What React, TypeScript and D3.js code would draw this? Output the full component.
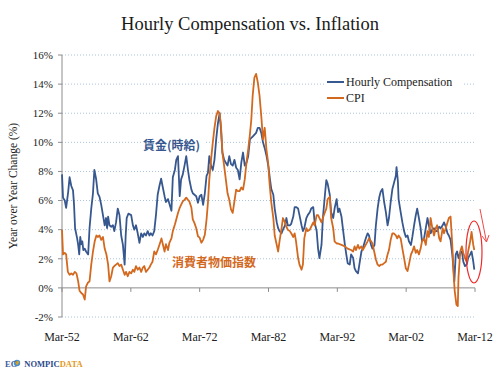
import React from "react";
import * as d3 from "d3";

const title = "Hourly Compensation vs. Inflation";
const yAxisTitle = "Year over Year Change (%)";
const yTicks = [-2, 0, 2, 4, 6, 8, 10, 12, 14, 16];
const xTickYears = [1952, 1962, 1972, 1982, 1992, 2002, 2012];
const xTickLabels = ["Mar-52", "Mar-62", "Mar-72", "Mar-82", "Mar-92", "Mar-02", "Mar-12"];
const seriesNames = ["Hourly Compensation", "CPI"];
const annotationWage = "賃金(時給)";
const annotationCpi = "消費者物価指数";

// [year, YoY %]
const hourlyComp: [number, number][] = [
  [1952.0, 7.8], [1952.15, 6.2], [1952.4, 6.0], [1952.6, 5.5], [1952.9, 6.6], [1953.1, 7.6],
  [1953.35, 7.0], [1953.6, 6.7], [1953.75, 5.7], [1953.9, 4.1], [1954.2, 3.4], [1954.35, 2.95],
  [1954.5, 2.3], [1954.65, 3.5], [1954.8, 3.0], [1954.95, 3.2], [1955.1, 2.6], [1955.3, 2.7],
  [1955.5, 2.5], [1955.8, 2.3], [1956.0, 4.1], [1956.25, 5.45], [1956.5, 6.5], [1956.7, 8.1],
  [1956.95, 7.5], [1957.2, 6.5], [1957.45, 6.25], [1957.7, 5.7], [1957.95, 5.0], [1958.2, 4.3],
  [1958.4, 4.8], [1958.55, 4.1], [1958.7, 4.9], [1958.9, 4.3], [1959.15, 4.2], [1959.4, 4.3],
  [1959.6, 3.9], [1959.85, 4.5], [1960.1, 5.45], [1960.35, 5.0], [1960.6, 3.6], [1960.85, 2.95],
  [1961.1, 1.6], [1961.25, 3.6], [1961.4, 4.8], [1961.65, 5.1], [1962.05, 5.0], [1962.3, 4.3],
  [1962.5, 4.0], [1962.75, 4.3], [1963.0, 3.75], [1963.25, 3.1], [1963.5, 3.75], [1963.75, 3.5],
  [1963.95, 3.75], [1964.2, 3.6], [1964.45, 3.9], [1964.7, 3.6], [1964.9, 3.75], [1965.15, 3.6],
  [1965.4, 3.9], [1965.65, 5.0], [1965.9, 6.4], [1966.15, 7.0], [1966.4, 7.5], [1966.65, 6.9],
  [1966.9, 6.3], [1967.1, 5.9], [1967.4, 6.1], [1967.9, 5.3], [1968.1, 7.6], [1968.4, 8.1],
  [1968.6, 8.8], [1968.85, 9.05], [1969.1, 6.3], [1969.3, 7.45], [1969.55, 7.8], [1969.8, 8.4],
  [1970.05, 9.05], [1970.3, 8.1], [1970.5, 7.45], [1970.8, 6.75], [1971.0, 6.5], [1971.5, 6.3],
  [1971.75, 5.85], [1972.0, 6.3], [1972.25, 6.4], [1972.5, 5.7], [1972.75, 6.5], [1973.0, 7.7],
  [1973.2, 7.9], [1973.4, 9.05], [1973.65, 8.4], [1973.9, 8.1], [1974.15, 8.8], [1974.4, 10.2],
  [1974.65, 11.3], [1974.9, 12.0], [1975.1, 10.9], [1975.3, 9.3], [1975.55, 8.8], [1975.8, 8.6],
  [1976.05, 8.4], [1976.3, 9.05], [1976.55, 8.5], [1976.8, 8.4], [1977.05, 8.8], [1977.3, 8.25],
  [1977.55, 8.1], [1977.8, 7.45], [1978.05, 8.6], [1978.3, 9.3], [1978.55, 8.4], [1978.8, 8.6],
  [1979.05, 9.05], [1979.3, 10.2], [1979.5, 10.3], [1979.7, 10.4], [1980.2, 10.65], [1980.45, 11.0],
  [1980.7, 11.0], [1980.95, 10.65], [1981.2, 10.0], [1981.5, 9.5], [1981.7, 9.1], [1982.0, 8.3],
  [1982.2, 7.5], [1982.4, 6.8], [1982.7, 6.4], [1982.9, 5.45], [1983.2, 4.5], [1983.4, 4.1],
  [1983.6, 3.9], [1983.9, 3.75], [1984.1, 4.0], [1984.4, 4.3], [1984.6, 4.8], [1984.8, 4.3],
  [1985.1, 4.3], [1985.3, 4.4], [1985.6, 4.9], [1985.8, 5.55], [1986.0, 5.55], [1986.3, 5.45],
  [1986.5, 5.0], [1986.8, 4.3], [1987.0, 3.9], [1987.2, 4.1], [1987.5, 4.8], [1987.7, 5.0],
  [1988.0, 5.2], [1988.2, 5.45], [1988.5, 5.55], [1988.7, 4.5], [1989.0, 3.9], [1989.2, 2.7],
  [1989.4, 2.05], [1989.7, 2.95], [1989.9, 4.8], [1990.2, 6.4], [1990.4, 7.4], [1990.6, 7.15],
  [1990.9, 6.4], [1991.1, 5.2], [1991.4, 4.8], [1991.6, 5.45], [1991.9, 6.1], [1992.1, 5.2],
  [1992.3, 5.45], [1992.6, 4.9], [1992.8, 4.1], [1993.1, 2.95], [1993.3, 2.3], [1993.5, 1.7],
  [1993.8, 1.6], [1994.0, 2.3], [1994.3, 2.05], [1994.5, 1.35], [1994.7, 1.15], [1995.0, 1.0],
  [1995.2, 1.6], [1995.5, 2.5], [1995.7, 2.7], [1996.0, 3.2], [1996.2, 3.5], [1996.4, 3.75],
  [1996.6, 3.6], [1996.9, 2.95], [1997.1, 2.7], [1997.4, 2.95], [1997.6, 4.3], [1997.85, 5.45],
  [1998.1, 6.25], [1998.3, 6.6], [1998.55, 6.8], [1998.8, 5.9], [1999.05, 5.2], [1999.3, 4.3],
  [1999.5, 4.8], [1999.75, 5.9], [2000.0, 6.8], [2000.2, 7.15], [2000.5, 7.7], [2000.6, 8.3],
  [2000.8, 7.3], [2000.9, 6.1], [2001.2, 5.2], [2001.45, 4.5], [2001.7, 3.9], [2001.95, 3.5],
  [2002.2, 3.6], [2002.4, 3.2], [2002.7, 2.95], [2002.9, 3.5], [2003.15, 4.3], [2003.4, 5.0],
  [2003.6, 5.45], [2003.85, 4.8], [2004.1, 4.1], [2004.3, 3.2], [2004.6, 3.4], [2004.85, 4.1],
  [2005.1, 4.8], [2005.3, 4.3], [2005.55, 3.75], [2005.8, 4.0], [2006.05, 4.1], [2006.3, 3.9],
  [2006.5, 3.9], [2006.8, 4.2], [2007.0, 4.1], [2007.3, 4.3], [2007.5, 4.5], [2007.75, 4.2],
  [2008.0, 3.75], [2008.2, 3.6], [2008.45, 3.3], [2008.7, 2.3], [2008.9, 1.15], [2009.0, 0.45],
  [2009.2, 2.3], [2009.4, 2.5], [2009.6, 2.05], [2009.85, 2.4], [2010.1, 2.5], [2010.3, 1.8],
  [2010.55, 1.5], [2010.8, 1.6], [2011.0, 2.05], [2011.3, 2.3], [2011.5, 2.5], [2011.75, 1.8],
  [2011.9, 1.25],
];

const cpi: [number, number][] = [
  [1952.0, 4.0], [1952.15, 2.3], [1952.4, 2.4], [1952.6, 2.3], [1952.85, 1.1], [1953.1, 0.9],
  [1953.35, 1.0], [1953.6, 0.9], [1953.85, 1.1], [1954.1, 1.0], [1954.35, 0.45], [1954.55, -0.2],
  [1954.8, -0.35], [1955.05, -0.45], [1955.3, -0.8], [1955.5, 0.1], [1955.75, 0.35], [1956.0, 0.45],
  [1956.25, 1.6], [1956.5, 2.5], [1956.75, 3.2], [1957.0, 3.6], [1957.2, 3.5], [1957.45, 3.6],
  [1957.7, 3.3], [1957.95, 3.5], [1958.2, 2.7], [1958.45, 2.3], [1958.7, 1.6], [1958.9, 0.45],
  [1959.15, 0.8], [1959.4, 1.4], [1959.6, 1.5], [1959.85, 1.6], [1960.1, 1.7], [1960.35, 1.5],
  [1960.6, 1.6], [1960.85, 1.25], [1961.1, 0.9], [1961.3, 1.1], [1961.55, 0.8], [1961.8, 1.1],
  [1962.05, 1.0], [1962.3, 1.25], [1962.5, 1.1], [1962.75, 1.5], [1963.0, 1.25], [1963.25, 1.4],
  [1963.5, 1.1], [1963.75, 1.4], [1963.95, 1.5], [1964.2, 1.1], [1964.45, 1.25], [1964.7, 1.4],
  [1964.9, 1.6], [1965.15, 1.8], [1965.4, 2.5], [1965.65, 2.3], [1965.9, 2.6], [1966.15, 2.95],
  [1966.45, 3.4], [1966.7, 2.9], [1966.9, 2.5], [1967.1, 3.0], [1967.4, 2.6], [1967.6, 3.1],
  [1967.9, 3.4], [1968.1, 3.9], [1968.4, 4.35], [1968.6, 4.7], [1968.85, 5.15], [1969.1, 5.5],
  [1969.3, 5.7], [1969.55, 5.95], [1969.8, 6.05], [1970.05, 6.2], [1970.3, 6.05], [1970.5, 5.95],
  [1970.8, 5.5], [1971.0, 4.7], [1971.25, 4.45], [1971.5, 4.1], [1971.75, 3.55], [1972.0, 3.45],
  [1972.25, 3.1], [1972.5, 3.3], [1972.75, 3.65], [1973.0, 4.7], [1973.2, 5.85], [1973.4, 7.45],
  [1973.65, 8.8], [1973.9, 9.95], [1974.15, 11.0], [1974.4, 11.8], [1974.65, 12.15], [1974.9, 12.0],
  [1975.1, 11.1], [1975.3, 9.3], [1975.55, 8.4], [1975.8, 7.45], [1976.05, 6.5], [1976.3, 6.05],
  [1976.55, 5.4], [1976.8, 5.15], [1977.05, 5.95], [1977.3, 6.75], [1977.55, 6.65], [1977.8, 6.65],
  [1978.05, 6.9], [1978.3, 6.75], [1978.55, 7.45], [1978.8, 8.6], [1979.05, 9.5], [1979.3, 10.55],
  [1979.5, 11.55], [1979.7, 13.2], [1979.95, 14.45], [1980.2, 14.7], [1980.45, 14.1], [1980.7, 13.2],
  [1980.95, 11.8], [1981.2, 10.2], [1981.45, 11.0], [1981.7, 9.5], [1981.95, 8.6], [1982.15, 7.2],
  [1982.4, 5.9], [1982.7, 4.8], [1982.9, 3.6], [1983.2, 2.95], [1983.4, 2.5], [1983.6, 3.2],
  [1983.9, 4.1], [1984.1, 4.8], [1984.4, 4.5], [1984.6, 4.2], [1984.8, 4.0], [1985.1, 3.9],
  [1985.3, 3.75], [1985.6, 3.5], [1985.8, 3.75], [1986.0, 3.2], [1986.3, 2.05], [1986.5, 1.6],
  [1986.8, 1.25], [1987.0, 1.6], [1987.2, 3.4], [1987.5, 4.1], [1987.7, 3.9], [1988.0, 4.0],
  [1988.2, 4.2], [1988.5, 4.5], [1988.7, 4.3], [1989.0, 5.0], [1989.2, 5.0], [1989.4, 4.8],
  [1989.7, 4.5], [1989.9, 4.8], [1990.2, 5.2], [1990.4, 5.45], [1990.6, 6.1], [1990.9, 6.25],
  [1991.1, 4.8], [1991.4, 4.1], [1991.6, 3.2], [1991.9, 3.05], [1992.1, 3.05], [1992.6, 2.95],
  [1993.1, 2.85], [1993.5, 2.7], [1994.0, 2.6], [1994.3, 2.5], [1994.5, 2.85], [1994.7, 2.6],
  [1995.0, 2.95], [1995.2, 2.7], [1995.5, 2.85], [1995.7, 2.6], [1996.0, 2.85], [1996.4, 3.2],
  [1996.6, 3.4], [1996.9, 3.2], [1997.1, 3.05], [1997.4, 2.4], [1997.6, 1.95], [1997.85, 1.6],
  [1998.1, 1.5], [1998.3, 1.6], [1998.55, 1.6], [1998.8, 1.7], [1999.05, 1.8], [1999.3, 2.3],
  [1999.5, 2.6], [1999.75, 3.3], [2000.0, 3.75], [2000.2, 3.75], [2000.5, 3.6], [2000.7, 3.4],
  [2000.9, 3.6], [2001.2, 3.4], [2001.45, 2.7], [2001.7, 2.05], [2001.95, 1.35], [2002.2, 1.15],
  [2002.4, 1.6], [2002.7, 2.3], [2002.9, 2.5], [2003.15, 2.85], [2003.4, 2.4], [2003.6, 2.6],
  [2003.85, 2.3], [2004.1, 2.7], [2004.3, 3.2], [2004.6, 3.4], [2004.85, 2.95], [2005.1, 3.9],
  [2005.3, 3.5], [2005.55, 4.8], [2005.8, 4.1], [2006.05, 3.6], [2006.3, 4.1], [2006.5, 4.3],
  [2006.8, 3.4], [2007.0, 3.2], [2007.3, 4.1], [2007.5, 3.75], [2007.75, 4.1], [2008.0, 4.5],
  [2008.2, 4.8], [2008.45, 4.9], [2008.7, 2.95], [2008.9, 0.9], [2009.05, -0.2], [2009.3, -1.15],
  [2009.5, -1.25], [2009.6, 0.7], [2009.85, 2.5], [2010.1, 2.85], [2010.3, 2.4], [2010.55, 2.05],
  [2010.8, 1.8], [2011.0, 2.5], [2011.3, 3.2], [2011.5, 3.85], [2011.75, 2.95], [2011.9, 2.6],
];

const BLUE = "#37578f";
const ORANGE = "#d2691f";
const SERIF = "'Liberation Serif', 'DejaVu Serif', serif";
const CJK = "'Noto Sans CJK JP', 'Noto Sans CJK SC', sans-serif";

export default function App() {
  const W = 500, H = 375;
  const left = 62, right = 475, top = 55, bottom = 317;
  const x = d3.scaleLinear().domain([1952, 2012]).range([left, right]);
  const y = d3.scaleLinear().domain([-2, 16]).range([bottom, top]);
  const line = d3.line<[number, number]>().x((d) => x(d[0])).y((d) => y(d[1]));

  return (
    <svg width={W} height={H} style={{ position: "absolute", left: 0, top: 0, background: "#fff" }}>
      <rect width={W} height={H} fill="#fff" />
      <text x={250} y={30} textAnchor="middle" fontFamily={SERIF} fontSize={18.5} fill="#1a1a1a">{title}</text>

      {/* gridlines */}
      {yTicks.filter((t) => t !== 0).map((t) => (
        <line key={t} x1={left} x2={right} y1={y(t)} y2={y(t)} stroke="#a9c3dc" strokeWidth={1} strokeDasharray="1,2" />
      ))}
      {/* zero line */}
      <line x1={left} x2={right} y1={y(0)} y2={y(0)} stroke="#8c8c8c" strokeWidth={1} />
      {xTickYears.map((yr) => (
        <line key={yr} x1={x(yr)} x2={x(yr)} y1={y(0)} y2={y(0) + 4} stroke="#8c8c8c" strokeWidth={1} />
      ))}
      {/* y axis */}
      <line x1={left} x2={left} y1={top} y2={bottom} stroke="#8c8c8c" strokeWidth={1} />
      {yTicks.map((t) => (
        <g key={t}>
          <line x1={left - 4} x2={left} y1={y(t)} y2={y(t)} stroke="#8c8c8c" strokeWidth={1} />
          <text x={53} y={y(t) + 3.8} textAnchor="end" fontFamily={SERIF} fontSize={11} fill="#222">{`${t}%`}</text>
        </g>
      ))}
      <text transform={`translate(17,${(top + bottom) / 2}) rotate(-90)`} textAnchor="middle" fontFamily={SERIF} fontSize={11.5} fill="#222">{yAxisTitle}</text>

      {xTickYears.map((yr, i) => (
        <text key={yr} x={x(yr)} y={341} textAnchor="middle" fontFamily={SERIF} fontSize={12} fill="#222">{xTickLabels[i]}</text>
      ))}

      {/* legend background */}
      <rect x={324} y={72} width={138} height={34} fill="#fff" />
      {/* annotation backgrounds */}
      <rect x={141} y={137} width={63} height={16} fill="#fff" />
      <rect x={170} y={254} width={86} height={16} fill="#fff" />

      {/* series */}
      <path d={line(hourlyComp) || ""} fill="none" stroke={BLUE} strokeWidth={1.8} strokeLinejoin="round" />
      <path d={line(cpi) || ""} fill="none" stroke={ORANGE} strokeWidth={1.8} strokeLinejoin="round" />

      {/* legend */}
      <line x1={327} x2={344} y1={82} y2={82} stroke={BLUE} strokeWidth={2} />
      <text x={346} y={86} fontFamily={SERIF} fontSize={12} fill="#222">{seriesNames[0]}</text>
      <line x1={327} x2={344} y1={98} y2={98} stroke={ORANGE} strokeWidth={2} />
      <text x={346} y={102} fontFamily={SERIF} fontSize={12} fill="#222">{seriesNames[1]}</text>

      {/* annotations */}
      <text x={143} y={150} fontFamily={CJK} fontWeight={700} fontSize={12} fill={BLUE}>{annotationWage}</text>
      <text x={172} y={267} fontFamily={CJK} fontWeight={700} fontSize={12} fill={ORANGE}>{annotationCpi}</text>

      {/* highlight */}
      <ellipse cx={474} cy={252} rx={8} ry={31} fill="none" stroke="#ee2a2a" strokeWidth={1.2} />
      <line x1={480} y1={209} x2={486.5} y2={242} stroke="#f04848" strokeWidth={1} />
      <polyline points="482,236 486.5,242 489,235" fill="none" stroke="#f04848" strokeWidth={1} />

      {/* logo */}
      <circle cx={17} cy={363} r={3.2} fill="#4a8fd0" />
      <path d="M14.8,362 q2.2,-2.2 4.4,0 q-1,2.2 -2.2,3.2 z" fill="#e0a020" />
      <text x={5} y={366.5} fontFamily={SERIF} fontWeight={900} fontSize={8.5}>
        <tspan fill="#3b5b9c">EC</tspan>
        <tspan dx={7.5} fill="#2d4a8a">NOMPIC</tspan>
        <tspan fill="#e39a1c">DATA</tspan>
      </text>
    </svg>
  );
}
